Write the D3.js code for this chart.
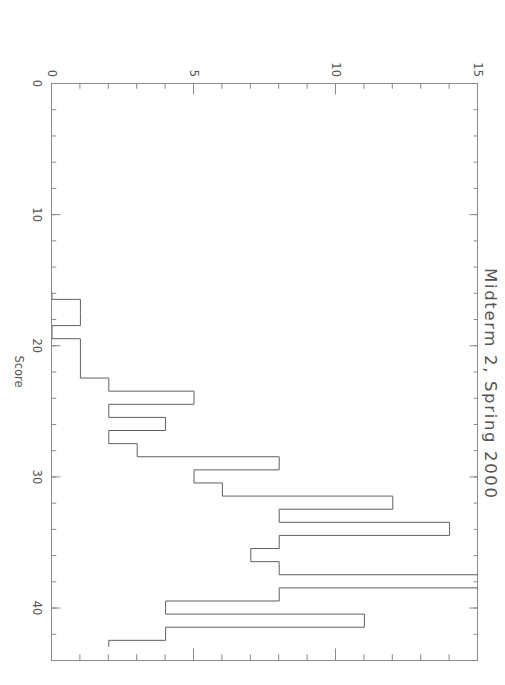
<!DOCTYPE html>
<html>
<head>
<meta charset="utf-8">
<script src="https://cdn.jsdelivr.net/npm/d3@7"></script>
<style>
body { margin: 0; background: #fff; }
text { font-family: "DejaVu Sans", sans-serif; fill: #555; }
</style>
</head>
<body>
<script>
// histogram of scores (number of students per score)
var scores = [16, 17, 18, 19, 20, 21, 22, 23, 24, 25, 26, 27, 28, 29,
              30, 31, 32, 33, 34, 35, 36, 37, 38, 39, 40, 41, 42, 43];
var counts = [0, 1, 1, 0, 1, 1, 1, 2, 5, 2, 4, 2, 3, 8,
              5, 6, 12, 8, 14, 8, 7, 8, 16, 8, 4, 11, 4, 2];
var scoreTicks = [0, 10, 20, 30, 40];
var scoreMinor = [0, 2, 4, 6, 8, 10, 12, 14, 16, 18, 20, 22, 24, 26, 28, 30, 32, 34, 36, 38, 40, 42, 44];
var countTicks = [0, 5, 10, 15];
var countMinor = [0, 1, 2, 3, 4, 5, 6, 7, 8, 9, 10, 11, 12, 13, 14, 15];
var title = "Midterm 2, Spring 2000";
var xLabel = "Score";

// the plot is drawn landscape and then turned a quarter turn clockwise
var pageW = 505, pageH = 685;
var margin = {top: 27, right: 25, bottom: 52, left: 83},
    width = pageH - margin.left - margin.right,
    height = pageW - margin.top - margin.bottom;

var svg = d3.select("body").append("svg")
    .attr("width", pageW)
    .attr("height", pageH);

var g = svg.append("g")
    .attr("transform", "translate(" + pageW + ",0) rotate(90)")
    .append("g")
    .attr("transform", "translate(" + margin.left + "," + margin.top + ")");

var xScale = d3.scaleLinear().domain([0, 44]).range([0, width]);
var yScale = d3.scaleLinear().domain([0, 15]).range([height, 0]);

var axisColor = "#8a8a8a";
var majX = 0.02 * height, majY = 0.02 * width;

function styleAxis(sel) {
    sel.selectAll("path, line").attr("stroke", axisColor);
    sel.selectAll("text").attr("fill", "#555")
        .style("font-family", "DejaVu Sans, sans-serif")
        .style("font-size", "11.5px");
}

// score axes (bottom labelled, top plain)
g.append("g")
    .attr("transform", "translate(0," + height + ")")
    .call(d3.axisBottom(xScale).tickValues(scoreTicks).tickSize(-majX).tickSizeOuter(0).tickPadding(11))
    .call(styleAxis);
g.append("g")
    .attr("transform", "translate(0," + height + ")")
    .call(d3.axisBottom(xScale).tickValues(scoreMinor).tickSize(-majX / 2).tickSizeOuter(0).tickFormat(""))
    .call(styleAxis);
g.append("g")
    .call(d3.axisTop(xScale).tickValues(scoreTicks).tickSize(-majX).tickSizeOuter(0).tickFormat(""))
    .call(styleAxis);
g.append("g")
    .call(d3.axisTop(xScale).tickValues(scoreMinor).tickSize(-majX / 2).tickSizeOuter(0).tickFormat(""))
    .call(styleAxis);

// count axes (left labelled, right plain)
g.append("g")
    .call(d3.axisLeft(yScale).tickValues(countTicks).tickSize(-majY).tickSizeOuter(0).tickPadding(6))
    .call(styleAxis);
g.append("g")
    .call(d3.axisLeft(yScale).tickValues(countMinor).tickSize(-majY / 2).tickSizeOuter(0).tickFormat(""))
    .call(styleAxis);
g.append("g")
    .attr("transform", "translate(" + width + ",0)")
    .call(d3.axisRight(yScale).tickValues(countTicks).tickSize(-majY).tickSizeOuter(0).tickFormat(""))
    .call(styleAxis);
g.append("g")
    .attr("transform", "translate(" + width + ",0)")
    .call(d3.axisRight(yScale).tickValues(countMinor).tickSize(-majY / 2).tickSizeOuter(0).tickFormat(""))
    .call(styleAxis);

// clip so the tallest bin stops at the frame
g.append("clipPath").attr("id", "plotClip")
    .append("rect").attr("width", width).attr("height", height);

var lineGen = d3.line()
    .x(function(d, i) { return xScale(scores[i]); })
    .y(function(d) { return yScale(d); })
    .curve(d3.curveStep);

g.append("path")
    .attr("d", lineGen(counts))
    .attr("clip-path", "url(#plotClip)")
    .attr("fill", "none")
    .attr("stroke", "#606060")
    .attr("stroke-width", 1);

// axis title
g.append("text")
    .attr("x", width / 2)
    .attr("y", height + 37)
    .attr("text-anchor", "middle")
    .style("font-size", "11.5px")
    .text(xLabel);

// chart title
g.append("text")
    .attr("x", 300)
    .attr("y", -7)
    .attr("text-anchor", "middle")
    .attr("textLength", 230)
    .attr("lengthAdjust", "spacing")
    .style("font-size", "16.5px")
    .text(title);
</script>
</body>
</html>
